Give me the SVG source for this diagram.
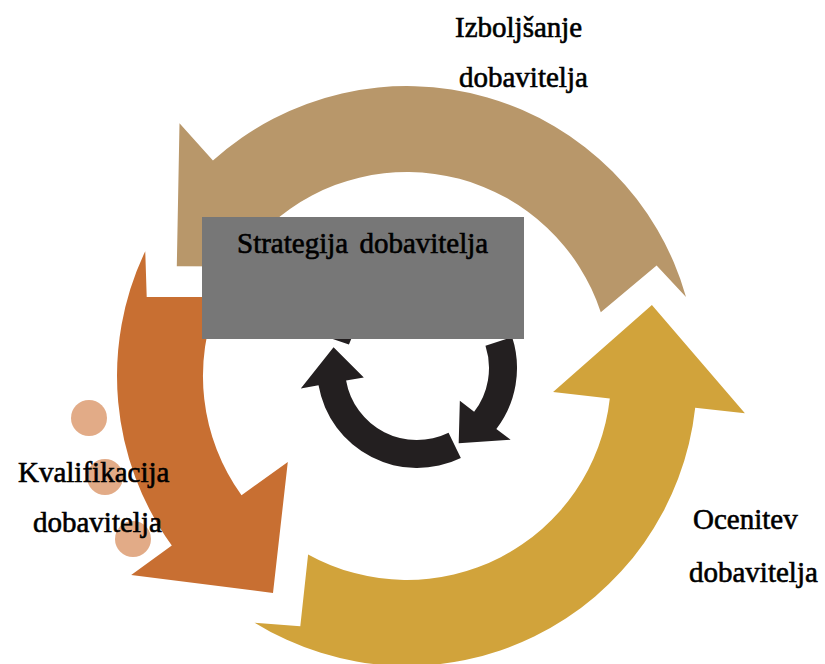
<svg xmlns="http://www.w3.org/2000/svg" width="825" height="664" viewBox="0 0 825 664">
<style>
.lbl{font-family:"Liberation Serif","Times New Roman",serif;font-size:29px;fill:#000;stroke:#000;stroke-width:0.6px}
.tan{fill:#b8976a}
.orange{fill:#c86f32}
.gold{fill:#d1a33b}
.dot{fill:#e2ab87}
.blk{fill:#231f20}
</style>
<rect width="825" height="664" fill="#ffffff"/>
<g id="connectors">
<path class="gold" d="M 254.6 622.7 A 290 290 0 0 0 695.2 407.8 L 744.9 413.3 L 651.9 304.9 L 553.1 392.1 L 609.8 398.4 A 204 204 0 0 1 308.1 554.4 L 300.3 626.2 Z"/>
<path class="tan" d="M 686 297 A 290 290 0 0 0 212.95 160.49 L 179.5 123.3 L 176.8 266.2 L 308.6 266.8 L 270.5 224.4 A 204 204 0 0 1 600.8 312.3 L 656.6 265.4 Z"/>
<path class="orange" d="M 145.25 251.15 A 290 290 0 0 0 171.8 545.6 L 131.2 574.9 L 273 593 L 287.8 462 L 241.5 495.3 A 204 204 0 0 1 218.9 296.9 L 146.7 296.9 Z"/>
<g id="inner-cycle">
<path class="blk" d="M 460.84 457.88 A 100 100 0 0 1 318.52 385.37 L 300.79 388.49 L 333.55 347.19 L 363.82 377.38 L 346.09 380.50 A 72 72 0 0 0 448.56 432.71 Z"/>
<path class="blk" d="M 512.11 337.10 A 100 100 0 0 1 496.34 428.88 L 510.62 439.83 L 458.69 443.22 L 459.84 400.87 L 474.12 411.83 A 72 72 0 0 0 485.48 345.75 Z"/>
<path class="blk" d="M 322.45 335.44 A 100 100 0 0 1 485.20 294.86 L 497.48 281.70 L 496.16 334.40 L 453.83 328.51 L 466.10 315.34 A 72 72 0 0 0 348.92 344.56 Z"/>
</g>
</g>
<g id="dots">
<circle class="dot" cx="89" cy="418" r="18"/>
<circle class="dot" cx="105" cy="477" r="18"/>
<circle class="dot" cx="133" cy="539" r="18"/>
</g>
<g id="node-strategija">
<rect x="202" y="217" width="322" height="122" fill="#777777"/>
<text class="lbl" x="237" y="253" word-spacing="4">Strategija dobavitelja</text>
</g>
<g id="node-izboljsanje">
<text class="lbl" x="455" y="37">Izboljšanje</text>
<text class="lbl" x="459" y="87">dobavitelja</text>
</g>
<g id="node-kvalifikacija">
<text class="lbl" x="18" y="482">Kvalifikacija</text>
<text class="lbl" x="33" y="532">dobavitelja</text>
</g>
<g id="node-ocenitev">
<text class="lbl" x="693" y="529">Ocenitev</text>
<text class="lbl" x="689" y="582">dobavitelja</text>
</g>
</svg>
